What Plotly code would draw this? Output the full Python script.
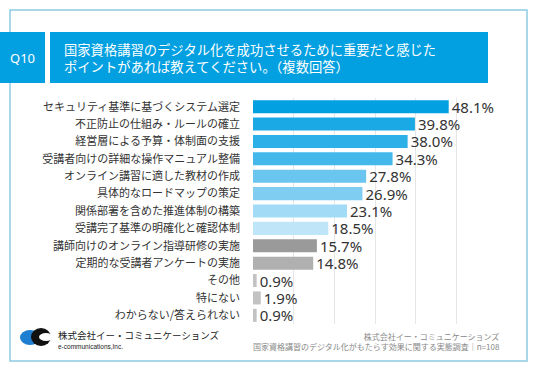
import plotly.graph_objects as go

categories = [
    "セキュリティ基準に基づくシステム選定",
    "不正防止の仕組み・ルールの確立",
    "経営層による予算・体制面の支援",
    "受講者向けの詳細な操作マニュアル整備",
    "オンライン講習に適した教材の作成",
    "具体的なロードマップの策定",
    "関係部署を含めた推進体制の構築",
    "受講完了基準の明確化と確認体制",
    "講師向けのオンライン指導研修の実施",
    "定期的な受講者アンケートの実施",
    "その他",
    "特にない",
    "わからない/答えられない",
]
values = [48.1, 39.8, 38.0, 34.3, 27.8, 26.9, 23.1, 18.5, 15.7, 14.8, 0.9, 1.9, 0.9]
bar_colors = ["#03a0e1", "#1ba9e5", "#2db0e8", "#45b8eb", "#6bc6ef", "#7fcef1",
              "#a2dbf5", "#bee6f8", "#9a9a9a", "#b0b0b0", "#c2c2c2", "#c2c2c2", "#c2c2c2"]
title_lines = ["国家資格講習のデジタル化を成功させるために重要だと感じた",
               "ポイントがあれば教えてください。（複数回答）"]
question = "Q10"
footer_lines = ["株式会社イー・コミュニケーションズ",
                "国家資格講習のデジタル化がもたらす効果に関する実態調査｜n=108"]
company = "株式会社イー・コミュニケーションズ"
company_en = "e-communications,Inc."

FONT = "Noto Sans CJK JP"
W, H = 536, 371
ML, MR, MT, MB = 253, 47, 98, 47
PW, PH = W - ML - MR, H - MT - MB


def px(x):
    return (x - ML) / PW


def py(y):
    return (H - MB - y) / PH


fig = go.Figure()
fig.add_trace(go.Bar(
    x=values, y=categories, orientation="h",
    marker=dict(color=bar_colors, line=dict(width=0)),
    width=0.75,
    text=[f"{v:.1f}%" for v in values],
    textposition="outside", cliponaxis=False, constraintext="none",
    textfont=dict(size=15, color="#333333", family="Noto Sans"),
    hoverinfo="skip",
))

shapes = [
    dict(type="rect", xref="paper", yref="paper", x0=px(10), x1=px(527),
         y0=py(361), y1=py(10), line=dict(color="#8ccbe3", width=1.5),
         fillcolor="rgba(0,0,0,0)", layer="below"),
    dict(type="rect", xref="paper", yref="paper", x0=px(0), x1=px(45),
         y0=py(83), y1=py(32), line=dict(width=0), fillcolor="#03a0e1"),
    dict(type="rect", xref="paper", yref="paper", x0=px(50), x1=px(488),
         y0=py(83), y1=py(32), line=dict(width=0), fillcolor="#03a0e1"),
    # logo
    dict(type="circle", xref="paper", yref="paper", x0=px(20), x1=px(40),
         y0=py(345), y1=py(330), line=dict(width=0), fillcolor="#1e7fd0"),
    dict(type="circle", xref="paper", yref="paper", x0=px(31), x1=px(51),
         y0=py(346), y1=py(328), line=dict(width=0), fillcolor="#111111"),
    dict(type="circle", xref="paper", yref="paper", x0=px(39), x1=px(53),
         y0=py(341), y1=py(333), line=dict(width=0), fillcolor="#ffffff"),
]

annotations = [
    dict(text=question, xref="paper", yref="paper", x=px(22.5), y=py(57.5),
         showarrow=False, font=dict(size=13, color="white", family="Noto Sans"),
         xanchor="center", yanchor="middle"),
    dict(text="<br>".join(title_lines), xref="paper", yref="paper", x=px(62), y=py(58),
         showarrow=False, align="left", xanchor="left", yanchor="middle",
         font=dict(size=13.3, color="white", family=FONT)),
    dict(text="<br>".join(footer_lines), xref="paper", yref="paper", x=px(502), y=py(341),
         showarrow=False, align="right", xanchor="right", yanchor="middle",
         font=dict(size=8, color="#888888", family=FONT)),
    dict(text=company, xref="paper", yref="paper", x=px(56), y=py(335),
         showarrow=False, xanchor="left", yanchor="middle",
         font=dict(size=9.5, color="#222222", family=FONT)),
    dict(text=company_en, xref="paper", yref="paper", x=px(56), y=py(346.5),
         showarrow=False, xanchor="left", yanchor="middle",
         font=dict(size=6.5, color="#222222", family="Liberation Sans")),
]

fig.update_layout(
    width=W, height=H,
    margin=dict(l=ML, r=MR, t=MT, b=MB, autoexpand=False),
    paper_bgcolor="white", plot_bgcolor="white",
    showlegend=False, bargap=0.25,
    shapes=shapes, annotations=annotations,
    font=dict(family=FONT),
)
fig.update_xaxes(range=[0, 58], dtick=10, showgrid=True, gridcolor="#e6e6e6",
                 gridwidth=1, showticklabels=False, zeroline=False, showline=False,
                 fixedrange=True, automargin=False)
fig.update_yaxes(autorange="reversed", tickfont=dict(size=11, color="#333333", family=FONT),
                 ticklabelstandoff=12, showgrid=False, showline=False, ticks="",
                 fixedrange=True, automargin=False)

fig.write_html("out.html", config={"displayModeBar": False},
               post_script="document.body.style.margin='0';document.body.style.overflow='hidden';")
